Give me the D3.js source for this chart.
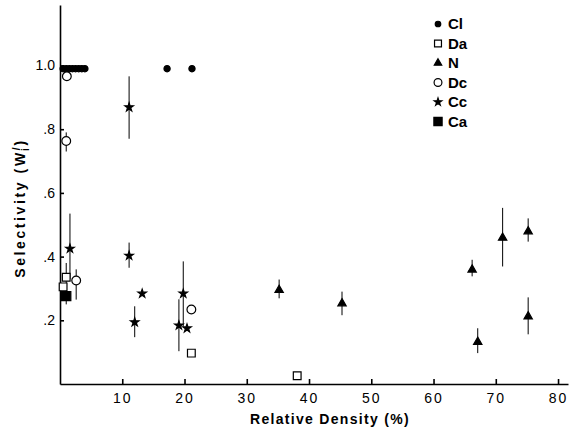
<!DOCTYPE html>
<head>
    <style>
        body { margin: 0; background: #fff; }
        .axis path, .axis line { stroke: #000; stroke-width: 1.6; }
        .axis text { font: 14px "Liberation Sans", sans-serif; fill: #000; }
        .xaxis text { letter-spacing: 2px; }
        .err { stroke: #000; stroke-width: 1; }
        .title { font: bold 14px "Liberation Sans", sans-serif; fill: #000; letter-spacing: 1.3px; }
        .ytitle { letter-spacing: 2.6px; }
        .legend text { font: bold 15px "Liberation Sans", sans-serif; fill: #000; }
    </style>
</head>
<body>
    <svg class="main"></svg>
</body>
<script src="https://d3js.org/d3.v7.min.js"></script>
<script>
    var width = 570;
    var height = 430;

    // [density %, selectivity, lower end of bar, upper end of bar]
    var clPoints = [[0.5, 0.99], [1, 0.99], [1.5, 0.99], [2, 0.99], [2.5, 0.99], [3, 0.99], [3.5, 0.99], [4, 0.99],
                    [17.2, 0.99], [21.2, 0.99]];
    var daPoints = [[1, 0.335, 0.29, 0.38], [0.5, 0.305], [21.1, 0.097], [38.1, 0.026]];
    var nPoints = [[35.2, 0.295, 0.269, 0.328], [45.3, 0.253, 0.216, 0.29], [66.2, 0.359, 0.338, 0.39],
                   [71.1, 0.459, 0.369, 0.553], [75.2, 0.479, 0.447, 0.52], [75.2, 0.212, 0.156, 0.272],
                   [67.1, 0.132, 0.097, 0.175]];
    var dcPoints = [[1.1, 0.966], [1, 0.763, 0.73, 0.79], [2.6, 0.325, 0.265, 0.36], [21.1, 0.234]];
    var ccPoints = [[11.1, 0.869, 0.77, 0.966], [1.6, 0.425, 0.33, 0.535], [11.1, 0.403, 0.365, 0.444],
                    [13.2, 0.284], [12, 0.194, 0.147, 0.244], [19.8, 0.284, 0.18, 0.385],
                    [19.1, 0.184, 0.103, 0.266], [20.4, 0.175]];
    var caPoints = [[1, 0.276, 0.25, 0.31]];

    var xTicks = [10, 20, 30, 40, 50, 60, 70, 80];
    var yTicks = [0.2, 0.4, 0.6, 0.8, 1.0];
    var yTickLabels = ['.2', '.4', '.6', '.8', '1.0'];
    var legendNames = ['Cl', 'Da', 'N', 'Dc', 'Cc', 'Ca'];

    var series = [
        { name: 'Cl', data: clPoints, type: d3.symbolCircle, size: 30, fill: '#000' },
        { name: 'Da', data: daPoints, type: d3.symbolSquare, size: 60, fill: '#fff' },
        { name: 'N', data: nPoints, type: d3.symbolTriangle, size: 30, fill: '#000' },
        { name: 'Dc', data: dcPoints, type: d3.symbolCircle, size: 60, fill: '#fff' },
        { name: 'Cc', data: ccPoints, type: d3.symbolStar, size: 22, fill: '#000' },
        { name: 'Ca', data: caPoints, type: d3.symbolSquare, size: 85, fill: '#000' }
    ];

    var svg = d3.select('svg')
        .attr('width', width)
        .attr('height', height);

    var x = d3.scaleLinear().domain([0, 81.6]).range([60, 568]);
    var y = d3.scaleLinear().domain([0, 1.19]).range([384, 5]);

    svg.append('g')
        .attr('class', 'axis xaxis')
        .attr('transform', 'translate(0,' + y(0) + ')')
        .call(d3.axisBottom(x).tickValues(xTicks).tickSize(-5).tickSizeOuter(0).tickPadding(9));

    svg.append('g')
        .attr('class', 'axis')
        .attr('transform', 'translate(' + x(0) + ',0)')
        .call(d3.axisLeft(y).tickValues(yTicks).tickSize(-4).tickSizeOuter(0).tickPadding(5)
            .tickFormat(function (d, i) { return yTickLabels[i]; }));

    // error bars first, symbols on top
    series.forEach(function (s) {
        svg.append('g').selectAll('line')
            .data(s.data.filter(function (d) { return d.length > 2; }))
            .join('line')
            .attr('class', 'err')
            .attr('x1', function (d) { return x(d[0]); })
            .attr('x2', function (d) { return x(d[0]); })
            .attr('y1', function (d) { return y(d[2]); })
            .attr('y2', function (d) { return y(d[3]); });
    });

    series.forEach(function (s) {
        svg.append('g').selectAll('path')
            .data(s.data)
            .join('path')
            .attr('transform', function (d) { return 'translate(' + x(d[0]) + ',' + y(d[1]) + ')'; })
            .attr('d', d3.symbol().type(s.type).size(s.size))
            .attr('fill', s.fill)
            .attr('stroke', '#000')
            .attr('stroke-width', 1.2);
    });

    // legend
    var legend = svg.append('g')
        .attr('class', 'legend')
        .selectAll('g')
        .data(series)
        .join('g')
        .attr('transform', function (d, i) { return 'translate(438,' + (24 + i * 19.5) + ')'; });

    legend.append('path')
        .attr('d', function (d) { return d3.symbol().type(d.type).size(d.size * 0.8)(); })
        .attr('fill', function (d) { return d.fill; })
        .attr('stroke', '#000')
        .attr('stroke-width', 1.2);

    legend.append('text')
        .attr('x', 10)
        .attr('dy', '0.36em')
        .text(function (d, i) { return legendNames[i]; });

    // axis titles
    svg.append('text')
        .attr('class', 'title')
        .attr('x', 330)
        .attr('y', 424)
        .attr('text-anchor', 'middle')
        .text('Relative Density (%)');

    var yTitle = svg.append('text')
        .attr('class', 'title ytitle')
        .attr('transform', 'translate(25,208) rotate(-90)')
        .attr('text-anchor', 'middle');
    yTitle.append('tspan').text('Selectivity (W');
    yTitle.append('tspan').attr('dy', -5).attr('font-size', 10).text('/');
    yTitle.append('tspan').attr('dx', -6).attr('dy', 9).attr('font-size', 10).text('i');
    yTitle.append('tspan').attr('dy', -4).text(')');
</script>
